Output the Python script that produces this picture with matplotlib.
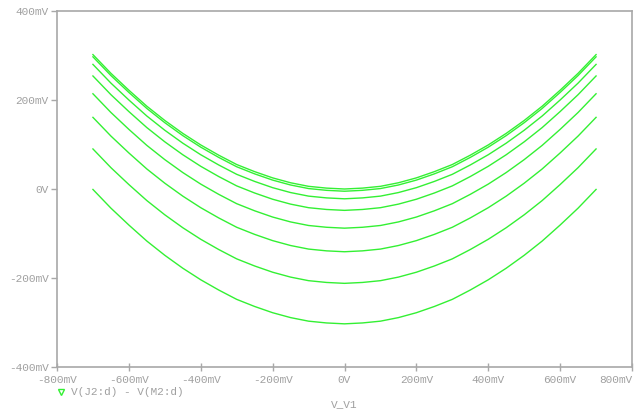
import matplotlib
matplotlib.use("Agg")
import matplotlib.pyplot as plt
from matplotlib.lines import Line2D

# sweep of V_V1 in mV
v_v1 = [-700, -650, -600, -550, -500, -450, -400, -350, -300, -250, -200, -150, -100, -50,
        0, 50, 100, 150, 200, 250, 300, 350, 400, 450, 500, 550, 600, 650, 700]

# V(J2:d) - V(M2:d) in mV, one trace per step
trace1 = [302, 260, 222, 186, 154, 125, 99, 76, 55, 39, 25, 14, 6, 2,
          0, 2, 6, 14, 25, 39, 55, 76, 99, 125, 154, 186, 222, 260, 302]
trace2 = [297, 255, 217, 181, 149, 120, 94, 71, 50, 34, 20, 9, 1, -3,
          -5, -3, 1, 9, 20, 34, 50, 71, 94, 120, 149, 181, 217, 255, 297]
trace3 = [280, 238, 200, 164, 132, 103, 77, 54, 33, 17, 3, -8, -16, -20,
          -22, -20, -16, -8, 3, 17, 33, 54, 77, 103, 132, 164, 200, 238, 280]
trace4 = [254, 212, 174, 138, 106, 77, 51, 28, 7, -9, -23, -34, -42, -46,
          -48, -46, -42, -34, -23, -9, 7, 28, 51, 77, 106, 138, 174, 212, 254]
trace5 = [214, 172, 134, 98, 66, 37, 11, -12, -33, -49, -63, -74, -82, -86,
          -88, -86, -82, -74, -63, -49, -33, -12, 11, 37, 66, 98, 134, 172, 214]
trace6 = [161, 119, 81, 45, 13, -16, -42, -65, -86, -102, -116, -127, -135, -139,
          -141, -139, -135, -127, -116, -102, -86, -65, -42, -16, 13, 45, 81, 119, 161]
trace7 = [90, 48, 10, -26, -58, -87, -113, -136, -157, -173, -187, -198, -206, -210,
          -212, -210, -206, -198, -187, -173, -157, -136, -113, -87, -58, -26, 10, 48, 90]
trace8 = [-1, -43, -81, -117, -149, -178, -204, -227, -248, -264, -278, -289, -297, -301,
          -303, -301, -297, -289, -278, -264, -248, -227, -204, -178, -149, -117, -81, -43, -1]
traces = [trace1, trace2, trace3, trace4, trace5, trace6, trace7, trace8]

x_ticks = [-800, -600, -400, -200, 0, 200, 400, 600, 800]
y_ticks = [-400, -200, 0, 200, 400]

def mv_label(v):
    return "0V" if v == 0 else "%dmV" % v

green = "#33f033"
grey = "#a8a8a8"
txt = "#a0a0a0"

plt.rcParams["axes.unicode_minus"] = False
plt.rcParams["font.family"] = "Liberation Mono"

fig = plt.figure(figsize=(6.39, 4.09), dpi=100)
ax = fig.add_axes([57 / 639, 42 / 409, 575 / 639, 356 / 409])

for tr in traces:
    ax.plot(v_v1, tr, color=green, lw=1.0)

ax.set_xlim(-800, 800)
ax.set_ylim(-400, 400)
ax.set_xticks(x_ticks)
ax.set_xticklabels([mv_label(v) for v in x_ticks])
ax.set_yticks(y_ticks)
ax.set_yticklabels([mv_label(v) for v in y_ticks])
ax.get_xticklabels()[-1].set_horizontalalignment("right")

for s in ax.spines.values():
    s.set_color(grey)
    s.set_linewidth(1.2)
ax.tick_params(axis="x", direction="inout", length=6, width=1, color=grey,
               labelcolor=txt, labelsize=8, pad=3)
ax.tick_params(axis="y", direction="out", length=4, width=1, color=grey,
               labelcolor=txt, labelsize=8, pad=2)
# keep the right-most tick label inside the figure
ax.get_xticklabels()[-1].set_x(800)
for lbl in ax.get_xticklabels()[-1:]:
    lbl.set_ha("right")

# legend entry below the axis, PSpice style
fig.add_artist(Line2D([61 / 639], [1 - 392 / 409], marker="v", markersize=4,
                      markerfacecolor="none", markeredgecolor=green,
                      linestyle="none", transform=fig.transFigure))
fig.text(71 / 639, 1 - 392 / 409, "V(J2:d) - V(M2:d)", color=txt, fontsize=8,
         va="center", ha="left")
fig.text(344 / 639, 1 - 404 / 409, "V_V1", color=txt, fontsize=8,
         va="center", ha="center")

fig.savefig("out.png", dpi=100, facecolor="white")
